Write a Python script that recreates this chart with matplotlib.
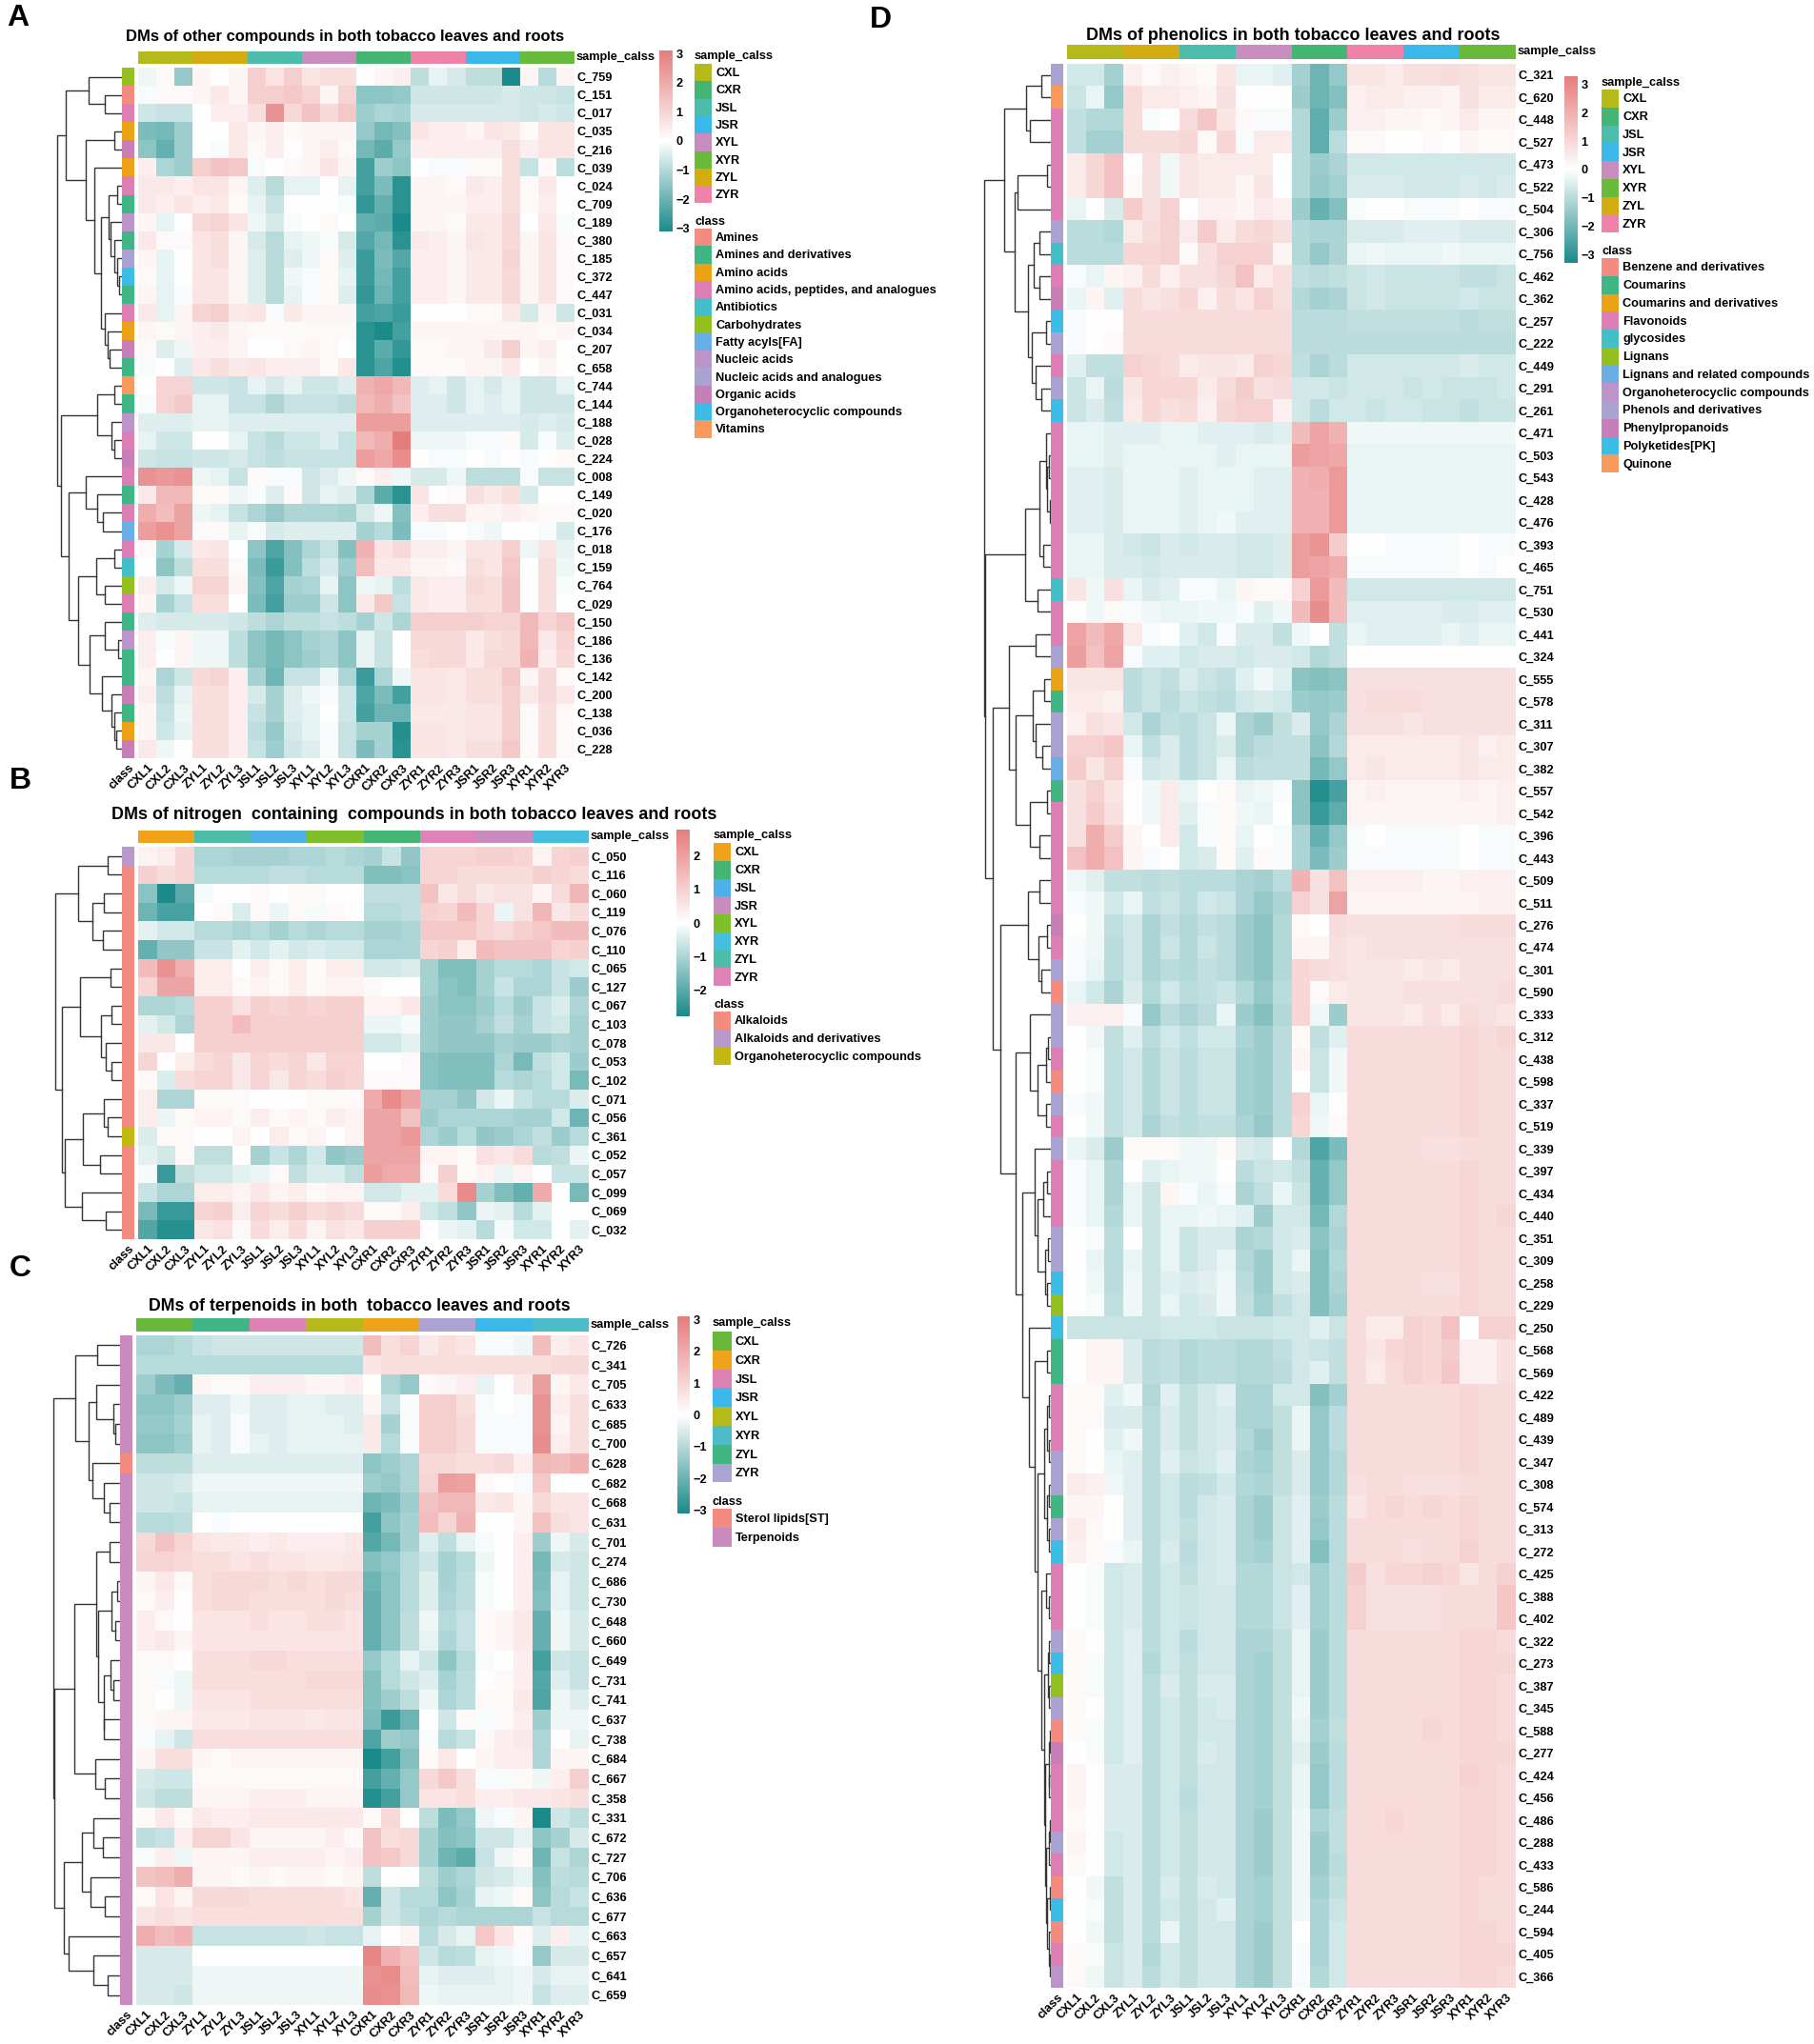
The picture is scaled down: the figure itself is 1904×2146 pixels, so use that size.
import numpy as np
import matplotlib
matplotlib.use('Agg')
import matplotlib.pyplot as plt
from matplotlib.colors import LinearSegmentedColormap, ListedColormap
from matplotlib.patches import Rectangle

plt.rcParams['font.family'] = ['Liberation Sans', 'DejaVu Sans']
plt.rcParams['font.weight'] = 'bold'

W, H = 1904, 2146
FS = 9.2
# values below were read a bit low against the colour bars
PINK_GAIN = 1.3
TEAL_GAIN = 1.1

samples = ['CXL1', 'CXL2', 'CXL3', 'ZYL1', 'ZYL2', 'ZYL3', 'JSL1', 'JSL2', 'JSL3', 'XYL1', 'XYL2', 'XYL3',
           'CXR1', 'CXR2', 'CXR3', 'ZYR1', 'ZYR2', 'ZYR3', 'JSR1', 'JSR2', 'JSR3', 'XYR1', 'XYR2', 'XYR3']
groups = ['CXL', 'CXR', 'JSL', 'JSR', 'XYL', 'XYR', 'ZYL', 'ZYR']
block_order = ['CXL', 'ZYL', 'JSL', 'XYL', 'CXR', 'ZYR', 'JSR', 'XYR']

# ---------- panel A ----------
a_rows = ['759', '151', '017', '035', '216', '039', '024', '709', '189', '380', '185', '372', '447', '031', '034',
          '207', '658', '744', '144', '188', '028', '224', '008', '149', '020', '176', '018', '159', '764', '029',
          '150', '186', '136', '142', '200', '138', '036', '228']
a_values = [
    [-2, 1, -13, 2, 0, 2, 9, 5, 9, 5, 6, 6, 0, 2, 3, -8, -3, -5, -8, -8, -30, 2, -9, 2],
    [-1, 1, 1, 2, 4, 2, 9, 9, 10, 8, 2, 8, -14, -14, -13, -6, -6, -6, -6, -6, -5, -6, -6, -7],
    [-6, -7, -7, 0, 3, 3, 6, 20, 7, 11, 7, 10, -12, -10, -11, -5, -5, -5, -5, -5, -5, -6, -5, -6],
    [-16, -17, -12, 0, 0, 4, 2, 3, 1, 2, 2, 2, -13, -17, -15, 5, 3, 3, 2, 5, 4, 1, 5, 5],
    [-14, -19, -12, 0, -1, 4, 1, 3, 0, 2, 3, 1, -17, -20, -13, 3, 3, 3, 3, 3, 6, 3, 5, 5],
    [3, -10, -12, 9, 11, 10, -1, 0, 1, 2, 5, 2, -23, -12, -14, 0, -1, -1, 1, 1, 6, -7, 1, -8],
    [4, 4, 3, 5, 5, 2, -4, -9, -3, -3, 0, -3, -23, -16, -26, 2, 2, 1, 4, 3, 6, 1, 4, 0],
    [4, 3, 5, 3, 4, 1, -3, -7, 0, 0, 0, -1, -25, -19, -26, 2, 2, 2, 3, 3, 6, 1, 3, 0],
    [2, -3, 0, 7, 8, 5, -2, -5, -1, 0, 1, 0, -19, -20, -28, 2, 2, 1, 4, 4, 7, 0, 4, -1],
    [4, 1, 1, 5, 6, 2, -5, -9, -3, -2, -1, -5, -21, -17, -26, 4, 3, 2, 5, 4, 7, 2, 5, 1],
    [2, -3, 0, 5, 6, 2, -4, -9, -4, -2, 1, -4, -24, -16, -21, 3, 3, 2, 4, 4, 8, 2, 5, 1],
    [1, -3, 0, 5, 5, 2, -4, -9, -2, -1, 1, -3, -24, -17, -23, 3, 3, 2, 4, 4, 7, 2, 5, 1],
    [2, -3, -1, 5, 5, 2, -4, -9, -3, -1, 1, -4, -25, -18, -23, 3, 3, 2, 4, 4, 7, 2, 5, 1],
    [4, -3, 2, 8, 9, 4, 5, -1, 4, 2, 2, 2, -23, -22, -24, 0, 0, 0, 1, 1, 4, -5, 2, -6],
    [2, 1, 2, 3, 4, 2, 1, 1, 1, 1, 1, 1, -26, -28, -23, 2, 2, 2, 2, 2, 2, 2, 1, 2],
    [1, -4, -2, 3, 3, 2, 0, 0, 1, 2, 1, 0, -26, -20, -25, 1, 1, 2, 2, 4, 9, 2, 3, 0],
    [-1, 0, -4, 4, 6, 4, 5, 3, 3, 3, 1, 4, -26, -22, -27, 1, 1, 1, 2, 2, 4, 0, 2, 0],
    [0, 8, 8, -6, -6, -7, -3, -5, -3, -6, -6, -4, 14, 16, 13, -4, -3, -6, -3, -5, -3, -6, -6, -3],
    [-1, 8, 10, -3, -3, -7, -7, -10, -7, -7, -7, -8, 13, 15, 11, -4, -4, -6, -3, -4, -3, -6, -6, -6],
    [-4, -4, -4, -3, -3, -4, -4, -4, -4, -4, -4, -4, 18, 18, 18, -4, -4, -4, -4, -4, -4, -5, -4, -5],
    [-3, -6, -6, 0, 0, -3, -7, -9, -6, -6, -4, -7, 13, 15, 24, -2, -2, -2, -1, -1, 1, -5, -1, -4],
    [-6, -7, -7, -6, -6, -5, -7, -8, -7, -7, -7, -7, 18, 16, 21, 0, -1, -1, 0, -1, 0, -1, 0, 1],
    [20, 19, 20, -2, -3, -7, 1, -1, -1, -6, -4, -2, 1, 3, -2, -5, -5, -2, -8, -8, -8, -1, -7, -7],
    [4, 13, 13, 1, 1, -2, -1, -4, 1, -6, -3, -4, -10, -20, -26, 5, 0, 1, 6, 4, 6, -5, 0, 0],
    [15, 12, 17, -2, -3, -7, -10, -13, -10, -10, -10, -11, -5, -2, -15, 3, 6, 6, 2, 2, 3, 2, 1, 1],
    [18, 20, 17, 1, 1, -3, -1, -5, -4, -4, -4, -4, -11, -9, -16, -1, -1, 0, -1, -2, 0, 0, -1, -5],
    [1, -11, -5, 4, 5, 0, -14, -22, -15, -10, -7, -15, 14, 5, 7, 3, 3, 2, 5, 5, 9, -2, 5, -3],
    [0, -14, -8, 6, 6, 1, -16, -24, -15, -8, -5, -12, 12, 4, 4, 2, 2, 1, 6, 5, 10, 0, 6, -2],
    [3, -5, -2, 8, 8, 2, -15, -22, -11, -10, -3, -14, -2, -3, -8, 4, 3, 3, 7, 6, 11, 0, 6, -1],
    [2, -11, -7, 6, 6, 0, -16, -23, -12, -12, -6, -14, 4, 10, -7, 4, 3, 3, 6, 6, 11, 0, 6, 0],
    [-4, -5, -5, -5, -5, -6, -8, -10, -8, -8, -7, -8, -11, -6, -10, 9, 9, 9, 9, 8, 8, 13, 8, 10],
    [3, -1, 2, -2, -2, -8, -14, -17, -14, -11, -10, -14, -3, -7, 0, 7, 7, 7, 4, 6, 7, 13, 4, 8],
    [3, 0, 2, -2, -2, -8, -14, -17, -14, -12, -10, -14, -3, -7, 0, 6, 7, 7, 4, 7, 7, 14, 3, 7],
    [2, -10, -6, 7, 8, 3, -11, -18, -7, -7, -2, -10, -24, -10, -2, 5, 5, 4, 6, 6, 10, 2, 7, 1],
    [3, -8, -3, 6, 6, 3, -5, -11, -4, -2, -1, -6, -22, -16, -23, 5, 5, 4, 6, 6, 9, 4, 7, 4],
    [2, -7, -2, 6, 6, 3, -7, -11, -4, -3, 0, -6, -23, -18, -18, 4, 4, 4, 5, 5, 9, 1, 6, 1],
    [2, -6, -3, 6, 6, 3, -8, -13, -5, -3, -1, -7, -11, -11, -27, 5, 5, 4, 5, 5, 9, 1, 6, 1],
    [4, -2, 0, 6, 6, 3, -7, -12, -6, -4, -1, -7, -16, -11, -26, 5, 5, 4, 6, 6, 10, 1, 6, 1],
]
a_classes = ['Amines', 'Amines and derivatives', 'Amino acids', 'Amino acids, peptides, and analogues', 'Antibiotics',
             'Carbohydrates', 'Fatty acyls[FA]', 'Nucleic acids', 'Nucleic acids and analogues', 'Organic acids',
             'Organoheterocyclic compounds', 'Vitamins']
a_class_colors = ['#F48B80', '#40B685', '#EBA315', '#DD7FB5', '#44BFC9', '#93C01F', '#69AEE4', '#BC94C9', '#AAA3D1',
                  '#C87FB7', '#3CBDE5', '#F79A5B']
a_row_class = [5, 0, 3, 2, 9, 2, 3, 1, 7, 1, 8, 10, 1, 3, 2, 9, 1, 11, 1, 7, 3, 9, 3, 1, 3, 6, 3, 4, 5, 3, 1, 7, 1, 1,
               9, 1, 2, 9]
a_group_colors = ['#B5B91A', '#45B573', '#4CBCAB', '#3BB8EA', '#C98CBE', '#69B93B', '#D3AC14', '#EE82A8']
# (height, left, right), leaves are row numbers
a_tree = (68,
          (59, (35, 0, (18, 1, 2)),
           (38, (8, 3, 4),
            (29, 5, (22, (14, (5, 6, 7), (12, 8, (8, 9, (5, 10, (3, 11, 12))))),
                     (18, 13, (15, 14, (13, 15, 16))))))),
          (64, (26, (8, 17, 18), (11, 19, (8, 20, 21))),
           (56, (38, 22, (26, 23, (20, 24, 25))),
            (46, (27, (8, 26, 27), (18, 28, 29)),
             (34, (18, 30, (4, 31, 32)), (21, 33, (11, 34, (8, 35, (6, 36, 37)))))))))

# ---------- panel B ----------
b_rows = ['050', '116', '060', '119', '076', '110', '065', '127', '067', '103', '078', '053', '102', '071', '056',
          '361', '052', '057', '099', '069', '032']
b_values = [
    [2, 3, 7, -9, -9, -10, -10, -10, -9, -9, -8, -9, -10, -6, -12, 7, 7, 7, 8, 8, 7, 2, 7, 8],
    [8, 6, 7, -8, -8, -8, -8, -7, -7, -8, -8, -8, -14, -14, -13, 7, 7, 6, 6, 6, 6, 8, 7, 6],
    [-13, -25, -18, -1, 0, 0, 1, 0, 1, 1, 0, 0, -7, -7, -7, 10, 4, 6, 4, 5, 5, 2, 6, 12],
    [-16, -20, -20, 0, 1, -4, 1, -2, 1, -1, 1, 0, -8, -8, -7, 8, 7, 11, 7, -2, 5, 12, 4, 6],
    [-3, -5, -5, -8, -8, -9, -8, -10, -8, -9, -8, -8, -10, -10, -9, 9, 9, 9, 7, 6, 8, 9, 11, 11],
    [-17, -12, -12, -6, -6, -3, -5, -3, -5, -4, -5, -5, -9, -9, -9, 7, 8, 3, 11, 10, 10, 10, 7, 8],
    [11, 18, 13, 3, 3, 0, 3, 1, 3, 1, 3, 3, -5, -5, -4, -10, -14, -14, -10, -8, -8, -9, -6, -5],
    [7, 15, 15, 3, 3, 1, 2, 1, 3, 1, 2, 2, 1, 0, 0, -10, -13, -14, -10, -6, -9, -9, -6, -11],
    [-9, -9, -8, 8, 8, 5, 8, 7, 8, 7, 8, 8, 2, 2, 4, -11, -13, -13, -11, -8, -11, -6, -4, -9],
    [-3, -5, -9, 8, 8, 11, 8, 8, 8, 8, 8, 8, -2, -2, -1, -11, -12, -12, -10, -7, -10, -6, -5, -10],
    [4, 4, 0, 8, 8, 8, 8, 8, 8, 8, 8, 8, -5, -5, -3, -11, -12, -12, -12, -10, -11, -11, -9, -10],
    [7, 0, 3, 6, 7, 4, 7, 6, 7, 4, 7, 7, 0, 0, 1, -13, -14, -14, -14, -9, -15, -7, -5, -11],
    [1, -4, 6, 7, 7, 4, 7, 4, 7, 6, 8, 7, 1, 1, 1, -13, -14, -14, -14, -8, -9, -8, -5, -15],
    [3, -9, -9, 1, 1, 1, 0, 0, 0, 1, 1, 1, 14, 19, 15, -10, -10, -12, -5, -2, -6, -8, -8, -4],
    [3, -2, 1, 2, 2, 1, 3, 1, 2, 1, 3, 2, 15, 15, 10, -11, -9, -9, -9, -9, -10, -10, -5, -16],
    [-4, 1, 1, 0, 0, 2, 0, 3, 1, 2, 0, 2, 15, 15, 17, -9, -11, -8, -12, -11, -9, -7, -11, -8],
    [-3, -5, 1, -7, -7, 0, -10, -6, -9, -5, -12, -11, 15, 15, 15, 2, 2, 1, 5, 4, 6, -8, -7, -2],
    [-1, -22, -7, -5, -5, -3, -2, 1, -7, -4, -4, -7, 16, 14, 14, 1, 8, 1, 2, -2, 2, 0, -6, -6],
    [-6, -9, -9, 3, 3, 2, 4, 2, 3, 1, 2, 2, -5, -5, -3, -3, 6, 19, -10, -14, -17, 14, 0, -15],
    [-15, -22, -22, 7, 8, 3, 7, 6, 8, 6, 7, 6, 1, 1, 3, -5, -7, -12, -2, -3, -8, -3, 0, 0],
    [-19, -24, -24, 4, 5, 1, 6, 3, 6, 2, 5, 4, 8, 8, 8, 0, -2, -3, -8, -1, -5, -5, 0, -3],
]
b_classes = ['Alkaloids', 'Alkaloids and derivatives', 'Organoheterocyclic compounds']
b_class_colors = ['#F48B80', '#B79ACB', '#C3B811']
b_row_class = [1, 0, 0, 0, 0, 0, 0, 0, 0, 0, 0, 0, 0, 0, 0, 2, 0, 0, 0, 0, 0]
b_group_colors = ['#F0A31A', '#45B574', '#4EB0E8', '#C98ABD', '#80BF2C', '#45BEDF', '#4DBDAA', '#DE82B8']
b_tree = (70,
          (46, (15, 0, 1), (31, (19, 2, 3), (20, 4, 5))),
          (63, (44, (12, 6, 7), (22, (11, 8, 9), (17, 10, (11, 11, 12)))),
           (60, (41, (19, 13, (15, 14, 15)), (23, 16, 17)), (42, 18, (17, 19, 20)))))

# ---------- panel C ----------
c_rows = ['726', '341', '705', '633', '685', '700', '628', '682', '668', '631', '701', '274', '686', '730', '648',
          '660', '649', '731', '741', '637', '738', '684', '667', '358', '331', '672', '727', '706', '636', '677',
          '663', '657', '641', '659']
c_values = [
    [-10, -10, -9, -7, -6, -6, -6, -6, -6, -6, -6, -6, 12, 6, 8, 4, 6, 5, -1, -1, -2, 12, 3, 5],
    [-9, -9, -9, -9, -9, -9, -9, -9, -9, -9, -9, -9, 5, 6, 6, 6, 6, 6, 6, 6, 6, 6, 7, 7],
    [-12, -16, -19, 2, 1, 1, 3, 3, 3, 2, 2, 3, 0, -10, -13, 1, 2, 3, -3, 0, 4, 18, 2, 4],
    [-14, -14, -12, -4, -4, -2, -4, -4, -3, -3, -4, -4, 2, -7, -1, 9, 9, 6, -1, 0, -1, 20, 3, 6],
    [-13, -13, -11, -3, -4, -1, -4, -4, -3, -3, -3, -4, 4, -11, -1, 9, 9, 7, -1, -1, -1, 20, 2, 6],
    [-14, -14, -12, -3, -4, -1, -3, -4, -3, -3, -3, -3, 4, -9, -1, 9, 9, 7, -1, -1, -1, 21, 3, 6],
    [-8, -8, -8, -4, -4, -4, -4, -4, -4, -4, -4, -4, -14, -12, -10, 7, 7, 6, 6, 7, 3, 13, 12, 14],
    [-6, -6, -5, -2, -2, -2, -2, -2, -2, -2, -2, -2, -12, -13, -10, 8, 18, 17, 1, 0, -1, 10, 0, 0],
    [-6, -6, -7, -3, -3, -3, -3, -3, -3, -3, -3, -3, -18, -16, -12, 11, 13, 13, 4, 5, 2, 7, 5, 5],
    [-9, -9, -8, 0, -1, 0, 0, 0, 0, 0, 0, 0, -23, -14, -11, 12, 8, 14, 0, 0, 2, 11, 6, 5],
    [7, 11, 8, 5, 4, 4, 3, 4, 3, 3, 3, 4, -21, -17, -11, -4, -8, -3, -1, 0, 3, -12, -2, -5],
    [8, 8, 7, 6, 6, 5, 6, 5, 5, 4, 4, 5, -15, -13, -9, -6, -11, -9, -2, 0, 3, -17, -5, -6],
    [2, 4, 1, 6, 7, 7, 7, 6, 7, 6, 7, 7, -18, -14, -9, -4, -11, -8, -1, 0, 3, -16, -3, -6],
    [1, 3, 0, 6, 7, 7, 6, 6, 6, 6, 7, 6, -19, -14, -9, -4, -10, -8, -1, 0, 3, -15, -3, -6],
    [3, 1, 0, 5, 5, 5, 6, 5, 5, 6, 6, 5, -19, -14, -8, -2, -9, -7, 1, 2, 4, -19, -2, -5],
    [3, 4, 2, 5, 5, 5, 5, 5, 5, 5, 5, 5, -19, -14, -8, -3, -10, -7, 1, 2, 4, -19, -2, -5],
    [1, 1, 0, 6, 6, 6, 7, 7, 6, 6, 6, 6, -13, -9, -3, -6, -14, -9, -1, 0, 3, -23, -6, -7],
    [1, -1, -2, 6, 6, 6, 6, 6, 6, 7, 7, 7, -15, -9, -6, -4, -11, -8, 0, 1, 3, -21, -4, -7],
    [1, 0, -2, 5, 5, 5, 6, 6, 6, 6, 6, 6, -15, -12, -8, -2, -10, -8, 1, 1, 4, -22, -2, -4],
    [1, 2, 2, 4, 4, 4, 5, 5, 5, 4, 5, 5, -16, -24, -18, 0, -6, 1, -1, 1, 3, -12, -2, -2],
    [-1, -3, -6, 6, 6, 6, 6, 6, 6, 6, 6, 6, -22, -12, -13, -1, -9, -7, 1, 3, 4, -10, 0, -3],
    [2, 6, 6, 2, 1, 2, 2, 2, 2, 2, 2, 2, -28, -23, -15, 1, 4, 0, 2, 3, 3, -10, 2, 2],
    [-5, -6, -6, 1, 1, 1, 1, 1, 1, 1, 1, 1, -23, -19, -13, 7, 10, 6, -1, -1, 1, -2, 3, 9],
    [-6, -8, -8, 2, 2, 2, 3, 3, 3, 2, 2, 2, -27, -23, -13, 5, 5, 6, 3, 3, 4, 4, 5, 6],
    [1, 4, 1, 4, 3, 3, 4, 4, 4, 4, 4, 4, 1, 7, 0, -8, -16, -13, -2, -1, 2, -29, -6, -8],
    [-8, -7, 3, 8, 8, 5, 2, 2, 2, 2, 3, 1, 11, 6, 7, -11, -15, -14, -6, -6, -3, -14, -11, -5],
    [-1, 3, -2, 2, 2, 2, 3, 3, 3, 3, 2, 3, 11, 10, 7, -11, -18, -20, -7, -2, 1, -18, -7, -10],
    [11, 12, 15, 2, 2, 1, 2, 1, 2, 2, 1, 2, -8, 0, 0, -8, -12, -10, -6, -5, -3, -15, -8, -9],
    [1, 5, 2, 7, 7, 7, 6, 6, 6, 6, 6, 5, -19, -6, -9, -9, -14, -11, -3, -2, 1, -14, -9, -7],
    [5, 6, 5, 6, 6, 6, 6, 6, 6, 6, 6, 6, -11, -6, -8, -10, -9, -10, -10, -10, -10, -7, -9, -9],
    [15, 12, 14, -7, -7, -7, -7, -7, -7, -6, -7, -7, -3, 0, 2, -9, -5, -3, 10, 5, 1, -4, 3, -3],
    [-5, -5, -5, 0, 0, 0, 0, 0, 0, 0, 0, 0, 22, 14, 11, -6, -9, -8, -3, -2, -1, -13, -5, -5],
    [-5, -5, -5, -2, -2, -2, -2, -2, -2, -2, -2, -2, 20, 21, 12, -3, -4, -4, -4, -3, -2, -5, -3, -3],
    [-5, -5, -6, -2, -2, -2, -2, -2, -2, -2, -2, -2, 21, 20, 13, -2, -3, -3, -3, -3, -2, -7, -4, -4],
]
c_classes = ['Sterol lipids[ST]', 'Terpenoids']
c_class_colors = ['#F48B80', '#C98ABD']
c_row_class = [1] * 6 + [0] + [1] * 27
c_group_colors = ['#6AB83B', '#EFA31A', '#DE82B5', '#3BB8EA', '#B5B91A', '#4CBCC9', '#40B685', '#ABA4D3']
c_tree = (70,
          (47, (24, 0, 1),
           (33, (25, 2, (7.5, 3, (4.6, 4, 5))), (29, 6, (17, 7, (11.5, 8, 9))))),
          (69, (48, (25, (11.5, 10, 11),
                     (23, (9, (3.5, 12, 13), (4.6, 14, 15)), (17, (10, 16, (7.5, 17, 18)), (17, 19, 20)))),
                (26.5, 21, (16, 22, 23))),
           (59, (40, (28, 24, (18, 25, 26)), (30.6, 27, (16, 28, 29))),
            (54, 30, (28, 31, (13, 32, 33))))))

# ---------- panel D ----------
d_rows = ['321', '620', '448', '527', '473', '522', '504', '306', '756', '462', '362', '257', '222', '449', '291',
          '261', '471', '503', '543', '428', '476', '393', '465', '751', '530', '441', '324', '555', '578', '311',
          '307', '382', '557', '542', '396', '443', '509', '511', '276', '474', '301', '590', '333', '312', '438',
          '598', '337', '519', '339', '397', '434', '440', '351', '309', '258', '229', '250', '568', '569', '422',
          '489', '439', '347', '308', '574', '313', '272', '425', '388', '402', '322', '273', '387', '345', '588',
          '277', '424', '456', '486', '288', '433', '586', '244', '594', '405', '366']
d_values = [
    [-6, -6, -12, 3, 1, 3, 2, 1, 5, -3, -3, -4, -12, -19, -14, 5, 5, 4, 6, 6, 7, 6, 5, 5],
    [-7, -3, -14, 7, 4, 4, 3, 2, 6, 0, 0, 0, -13, -19, -16, 3, 4, 4, 3, 3, 2, 6, 4, 4],
    [-8, -10, -10, 7, -1, 0, 7, 11, 5, 1, -1, -1, -10, -21, -13, 3, 3, 2, 2, 1, 2, 4, 2, 2],
    [-8, -12, -12, 7, 7, 7, 8, 1, 8, -1, 4, 4, -10, -21, -9, 1, 1, 0, 0, 1, 0, 2, 1, 1],
    [4, 8, 12, 0, 6, -2, 5, 4, 4, 4, 4, 0, -10, -13, -11, -6, -6, -6, -6, -6, -6, -6, -6, -6],
    [4, 8, 12, 1, 6, -2, 5, 4, 4, 2, 5, 0, -10, -14, -12, -5, -5, -5, -6, -6, -6, -5, -6, -5],
    [-3, 0, -5, 10, 6, 9, 0, 3, 3, 2, 4, 3, -13, -20, -16, -1, 0, 0, -1, -1, -1, 0, -1, -1],
    [-9, -9, -10, 4, 7, 9, 4, 10, 4, 7, 8, 6, -10, -11, -11, -5, -5, -5, -4, -4, -4, -5, -5, -5],
    [-9, -9, -9, 8, 8, 9, 1, 6, 9, 9, 9, 2, -10, -14, -11, -3, -2, -3, -3, -3, -2, -3, -3, -3],
    [-1, -3, 2, 3, 7, 3, 6, 6, 8, 12, 4, 6, -8, -9, -8, -7, -6, -7, -7, -7, -7, -8, -8, -7],
    [-3, 2, -4, 7, 5, 6, 8, 3, 7, 5, 9, 6, -10, -12, -11, -7, -6, -7, -7, -7, -7, -6, -7, -7],
    [-1, 0, 0, 7, 7, 7, 7, 7, 7, 7, 7, 7, -9, -9, -9, -8, -8, -8, -8, -8, -8, -9, -8, -8],
    [-1, 0, 1, 7, 7, 7, 7, 7, 7, 7, 7, 7, -9, -9, -9, -9, -9, -9, -9, -9, -9, -9, -9, -9],
    [-4, -8, -8, 9, 8, 7, 4, 5, 5, 4, 9, 8, -8, -11, -9, -6, -6, -6, -6, -6, -6, -5, -6, -6],
    [-7, -3, -9, 5, 8, 8, 8, 4, 7, 10, 6, 7, -6, -6, -7, -6, -6, -6, -7, -6, -7, -7, -7, -6],
    [-7, -5, -8, 4, 8, 6, 7, 3, 8, 9, 9, 3, -6, -9, -6, -6, -7, -6, -6, -7, -7, -8, -7, -7],
    [-3, -3, -4, -4, -4, -3, -3, -4, -4, -4, -5, -4, 13, 18, 15, -2, -2, -2, -2, -2, -2, -2, -2, -2],
    [-3, -3, -4, -3, -3, -3, -3, -3, -4, -3, -3, -3, 19, 18, 17, -3, -3, -3, -3, -3, -3, -3, -3, -3],
    [-4, -4, -5, -3, -3, -3, -4, -3, -3, -3, -4, -4, 15, 16, 20, -3, -3, -3, -3, -3, -3, -3, -3, -3],
    [-4, -4, -5, -3, -3, -3, -4, -3, -3, -3, -4, -4, 15, 15, 20, -3, -3, -3, -3, -3, -3, -3, -3, -3],
    [-4, -4, -5, -3, -3, -3, -4, -3, -2, -4, -4, -4, 15, 15, 20, -3, -3, -3, -3, -3, -3, -3, -3, -3],
    [-3, -3, -5, -6, -7, -5, -6, -5, -5, -6, -6, -5, 19, 21, 10, 0, 0, -1, -1, -1, -1, 0, -1, -1],
    [-3, -3, -5, -5, -6, -5, -5, -5, -5, -6, -6, -5, 19, 18, 16, -1, -1, -1, -1, -1, -1, 0, -1, 0],
    [5, -2, 6, -3, -5, -4, -1, -1, -3, 2, 1, 1, 9, 20, 13, -6, -6, -6, -6, -6, -6, -6, -6, -6],
    [0, -2, 1, -1, -2, -3, -3, -2, -2, -1, -4, -2, 13, 22, 13, -4, -4, -4, -4, -4, -5, -5, -4, -4],
    [18, 13, 17, 4, -1, 0, -4, -6, -1, -5, -5, -8, -2, 0, -8, -3, -4, -4, -4, -4, -3, -4, -3, -3],
    [19, 12, 18, -1, -4, -4, -6, -5, -5, -6, -5, -5, -6, -10, -8, 0, 0, 0, 0, 0, 0, 0, 0, 0],
    [5, 5, 5, -9, -7, -8, -5, -7, -8, -4, -2, -4, -15, -16, -15, 6, 6, 6, 6, 6, 6, 6, 6, 6],
    [4, 4, 3, -9, -7, -9, -7, -8, -9, -6, -5, -6, -13, -14, -13, 6, 7, 7, 7, 6, 6, 6, 6, 6],
    [3, 6, 5, -6, -11, -8, -9, -7, -3, -11, -13, -8, -5, -14, -11, 6, 6, 6, 5, 6, 6, 6, 6, 6],
    [9, 9, 11, -3, -8, -5, -9, -7, -5, -11, -9, -8, -8, -15, -10, 4, 4, 4, 4, 4, 4, 5, 3, 4],
    [10, 5, 9, -1, -6, -5, -9, -7, -3, -9, -8, -8, -8, -18, -14, 4, 5, 4, 4, 4, 4, 5, 4, 4],
    [6, 9, 5, 0, -2, 4, -3, 0, 1, -3, -2, -1, -15, -29, -24, 2, 3, 2, 2, 2, 2, 3, 2, 3],
    [6, 10, 6, 0, -2, 4, -4, -1, 1, -2, -3, 0, -15, -26, -21, 2, 2, 2, 2, 2, 2, 2, 2, 3],
    [6, 16, 10, 2, 0, 4, -6, -1, 1, -3, 0, -1, -11, -20, -14, -1, 0, -1, -1, -1, -1, 0, -1, -1],
    [12, 16, 12, 2, -1, 0, -6, -5, 1, -4, 1, -1, -11, -17, -13, -1, -1, -1, -1, -1, -1, 0, -1, -1],
    [-2, -4, -8, -8, -9, -8, -9, -9, -9, -11, -12, -9, 15, 6, 12, 3, 3, 3, 3, 2, 2, 3, 3, 3],
    [-1, -2, -6, -3, -8, -7, -9, -6, -7, -11, -14, -11, 9, 6, 18, 2, 2, 2, 2, 2, 2, 2, 3, 3],
    [0, -2, -8, -6, -11, -8, -10, -8, -9, -13, -15, -10, 1, 0, 7, 6, 6, 6, 6, 6, 6, 7, 7, 7],
    [-1, -2, -9, -6, -11, -7, -10, -7, -9, -13, -15, -10, 2, 2, 6, 5, 6, 6, 6, 6, 6, 6, 6, 6],
    [-1, -3, -9, -6, -11, -9, -10, -8, -9, -13, -15, -10, 8, 7, 6, 5, 5, 5, 4, 5, 4, 6, 6, 6],
    [-3, -6, -11, -5, -10, -6, -9, -8, -7, -10, -14, -9, 8, 1, 4, 5, 5, 5, 6, 6, 6, 6, 6, 7],
    [3, 3, 3, -1, -14, -9, -11, -9, -3, -13, -16, -10, 8, -2, -13, 5, 5, 5, 4, 6, 4, 7, 6, 5],
    [0, -2, -8, -4, -9, -6, -8, -6, -6, -11, -13, -9, 1, -8, -4, 7, 7, 7, 7, 7, 7, 8, 7, 8],
    [0, -1, -8, -6, -10, -7, -9, -7, -7, -12, -13, -9, 2, -7, -2, 7, 7, 7, 7, 7, 7, 8, 7, 7],
    [0, -1, -8, -6, -10, -7, -9, -7, -7, -12, -13, -9, 0, -7, -2, 7, 7, 7, 7, 7, 7, 8, 7, 7],
    [-1, -2, -8, -6, -10, -7, -9, -7, -7, -12, -13, -9, 9, -3, 0, 7, 7, 7, 7, 7, 7, 8, 7, 7],
    [0, -2, -8, -6, -11, -8, -9, -8, -8, -11, -14, -9, 8, -2, 1, 7, 7, 7, 7, 7, 7, 8, 7, 7],
    [-3, -5, -13, 1, 1, 1, -2, -2, 1, -5, -6, 0, -10, -23, -17, 7, 7, 7, 7, 6, 6, 7, 7, 7],
    [-1, -3, -11, 0, -4, -3, -2, -2, 0, -9, -7, -6, -8, -20, -14, 7, 7, 7, 7, 7, 7, 8, 7, 7],
    [-1, -3, -11, -3, -7, 2, -1, -3, -1, -11, -8, -3, -7, -20, -14, 7, 7, 7, 7, 7, 7, 8, 7, 7],
    [-1, -3, -10, -3, -7, -3, -3, -2, -3, -4, -13, -6, -6, -18, -10, 7, 7, 7, 7, 7, 7, 8, 7, 8],
    [0, -1, -9, 0, -7, -3, -7, -5, -5, -11, -10, -6, -5, -15, -11, 7, 7, 7, 7, 7, 7, 8, 7, 7],
    [0, -3, -9, -3, -7, -3, -7, -5, -3, -10, -13, -6, -3, -16, -10, 7, 7, 7, 7, 7, 7, 8, 7, 7],
    [0, -2, -9, -2, -7, -4, -5, -4, -2, -9, -13, -6, -5, -16, -11, 7, 7, 7, 7, 6, 6, 8, 7, 7],
    [0, -1, -8, -2, -7, -3, -6, -5, -2, -8, -12, -8, -6, -16, -12, 7, 7, 7, 7, 7, 7, 8, 7, 7],
    [-7, -7, -7, -7, -7, -6, -6, -6, -7, -7, -7, -6, -6, -4, -7, 7, 4, 4, 9, 8, 12, 0, 9, 9],
    [0, 2, 2, -5, -9, -8, -10, -9, -9, -10, -10, -8, -6, -7, -8, 7, 5, 8, 9, 8, 10, 3, 3, 6],
    [0, 2, 2, -5, -9, -8, -10, -9, -9, -10, -10, -9, -6, -4, -8, 7, 4, 7, 9, 8, 11, 3, 3, 6],
    [1, 1, -4, -2, -10, -4, -8, -6, -4, -11, -11, -6, -6, -16, -12, 7, 7, 7, 7, 7, 7, 8, 7, 7],
    [1, 1, -5, -5, -9, -5, -8, -6, -5, -11, -11, -8, -3, -14, -9, 7, 7, 7, 7, 7, 7, 8, 7, 7],
    [1, 0, -4, -2, -9, -5, -8, -6, -5, -10, -13, -8, -3, -14, -9, 7, 7, 7, 7, 7, 7, 8, 7, 7],
    [1, 0, -3, -4, -9, -4, -7, -6, -4, -11, -12, -8, -5, -14, -10, 7, 7, 7, 7, 7, 7, 8, 7, 7],
    [4, 3, -2, -4, -9, -6, -9, -8, -6, -10, -11, -8, -5, -14, -10, 6, 7, 7, 6, 6, 6, 7, 7, 7],
    [2, 2, 0, -4, -9, -6, -9, -6, -5, -11, -13, -7, -4, -13, -9, 5, 7, 8, 7, 8, 7, 8, 7, 7],
    [4, 1, 0, -4, -9, -6, -8, -6, -5, -11, -13, -7, -4, -14, -9, 7, 7, 7, 7, 7, 7, 8, 7, 7],
    [3, 1, -1, -3, -9, -5, -9, -6, -5, -11, -12, -7, -4, -16, -9, 7, 7, 7, 6, 7, 7, 9, 7, 7],
    [0, -1, -6, -5, -9, -6, -8, -6, -5, -10, -10, -7, -6, -12, -9, 10, 6, 8, 8, 9, 8, 5, 7, 9],
    [0, -1, -6, -5, -9, -6, -7, -6, -6, -10, -10, -7, -4, -12, -9, 9, 6, 6, 6, 6, 7, 7, 7, 11],
    [0, -1, -6, -5, -9, -6, -7, -6, -6, -10, -10, -7, -4, -12, -9, 9, 6, 6, 6, 6, 7, 7, 7, 11],
    [1, 0, -6, -4, -9, -6, -9, -6, -6, -11, -11, -8, -3, -13, -9, 7, 7, 7, 7, 7, 7, 8, 8, 7],
    [1, -1, -6, -4, -10, -6, -8, -6, -6, -11, -12, -8, -3, -13, -9, 7, 7, 7, 7, 7, 7, 8, 8, 8],
    [1, -1, -6, -4, -9, -5, -8, -5, -5, -11, -12, -8, -3, -13, -9, 7, 7, 7, 7, 7, 7, 8, 8, 7],
    [1, 0, -6, -4, -9, -6, -8, -6, -5, -11, -12, -8, -2, -13, -9, 7, 7, 7, 7, 7, 7, 8, 8, 7],
    [1, -1, -6, -4, -9, -6, -8, -6, -6, -11, -12, -8, -3, -12, -8, 7, 7, 7, 7, 8, 7, 8, 8, 7],
    [0, -1, -6, -4, -9, -6, -8, -5, -6, -11, -12, -8, -4, -13, -9, 7, 7, 7, 7, 7, 7, 8, 8, 8],
    [2, 0, -5, -5, -9, -6, -8, -6, -6, -11, -12, -8, -3, -14, -9, 7, 7, 7, 7, 7, 7, 9, 8, 7],
    [2, 0, -5, -5, -9, -6, -9, -6, -6, -11, -12, -8, -3, -14, -9, 7, 7, 7, 7, 7, 7, 8, 8, 7],
    [1, 0, -5, -5, -9, -6, -8, -6, -6, -11, -13, -8, -2, -11, -8, 7, 7, 8, 7, 7, 7, 8, 8, 7],
    [2, 0, -6, -5, -9, -6, -8, -6, -6, -11, -13, -8, -2, -13, -8, 7, 7, 7, 7, 7, 7, 8, 8, 7],
    [1, 0, -6, -5, -9, -6, -8, -6, -6, -11, -13, -8, -2, -13, -9, 7, 7, 7, 7, 7, 7, 8, 8, 7],
    [0, -2, -8, -5, -9, -5, -8, -5, -6, -11, -12, -8, -2, -12, -8, 7, 7, 7, 7, 7, 7, 8, 7, 7],
    [0, -1, -8, -5, -9, -6, -8, -6, -4, -11, -12, -8, -2, -11, -7, 7, 7, 7, 7, 7, 7, 8, 7, 7],
    [0, -2, -8, -5, -9, -3, -8, -6, -6, -11, -13, -8, 0, -11, -6, 7, 7, 7, 7, 7, 7, 8, 8, 7],
    [1, -1, -7, -5, -10, -6, -8, -6, -6, -11, -13, -8, -1, -11, -6, 7, 7, 7, 7, 7, 7, 8, 8, 8],
    [1, -2, -7, -5, -9, -6, -8, -6, -6, -11, -13, -8, -1, -10, -6, 7, 7, 7, 7, 7, 7, 8, 8, 7],
]
d_classes = ['Benzene and derivatives', 'Coumarins', 'Coumarins and derivatives', 'Flavonoids', 'glycosides', 'Lignans',
             'Lignans and related compounds', 'Organoheterocyclic compounds', 'Phenols and derivatives',
             'Phenylpropanoids', 'Polyketides[PK]', 'Quinone']
d_row_class = [8, 11, 3, 3, 3, 3, 3, 8, 4, 3, 9, 10, 8, 3, 8, 10, 3, 3, 3, 3, 3, 3, 3, 4, 3, 3, 8, 2, 1, 8, 8, 6, 1, 3,
               3, 3, 3, 3, 9, 3, 8, 0, 8, 8, 3, 0, 8, 3, 8, 3, 3, 3, 8, 8, 10, 5, 10, 1, 1, 3, 3, 3, 8, 8, 1, 8, 10, 3,
               3, 3, 8, 10, 5, 8, 0, 9, 3, 3, 3, 8, 3, 0, 10, 0, 3, 7]
d_tree = (70,
          (49, (26, (10, 0, 1), (22, 2, 3)),
           (38, (35, (4, 4, 5), 6),
            (24, (18, (12, 7, 8), (12, 9, 10)), (20, (5, 11, 12), (16, 13, (10, 14, 15)))))),
          (69,
           (27, (12, (5, 16, (4, (2, 17, 18), (1.5, 19, 20))), (8, 21, 22)), (14, 23, 24)),
           (61.5,
            (44, (16, 25, 26),
             (37, (19, (7, 27, 28), (15.6, 29, (9, 30, 31))), (22, (4, 32, 33), (12, 34, 35)))),
            (53,
             (24, (12, 36, 37), (13, (4, 38, 39), (10, 40, 41))),
             (37,
              (22.5, 42, (14, (5, (3, 43, 44), 45), (5, 46, 47))),
              (30,
               (17, 48, (14, (8, (4, 49, 50), 51), (6, (3, 52, 53), (4, 54, 55)))),
               (23, 56,
                (17, (4, 57, 58),
                 (14, (7, (4, (2, 59, 60), (2, 61, 62)), (4, (2, 63, 64), (2, 65, 66))),
                  (10, (5, 67, (2, 68, 69)),
                   (7, (3, (2, 70, 71), (2, 72, 73)),
                    (6, (2.5, (1.5, 74, 75), (2, 76, 77)),
                     (5, (2, (1.5, 78, 79), 80), (4, (1.5, 81, 82), (2, 83, (1, 84, 85))))))))))))))))

cmap = LinearSegmentedColormap.from_list('teal_salmon', ['#1B8A8A', '#FFFFFF', '#E67D7D'])

fig = plt.figure(figsize=(W / 100, H / 100), dpi=100)
page = fig.add_axes([0, 0, 1, 1])
page.set_xlim(0, W)
page.set_ylim(H, 0)
page.axis('off')


def px_axes(x0, y0, x1, y1):
    ax = fig.add_axes([x0 / W, 1 - y1 / H, (x1 - x0) / W, (y1 - y0) / H])
    ax.set_xticks([])
    ax.set_yticks([])
    for s in ax.spines.values():
        s.set_visible(False)
    return ax


def draw_tree(ax, node):
    if not isinstance(node, tuple):
        return node + 0.5, 0
    h, left, right = node
    y1, h1 = draw_tree(ax, left)
    y2, h2 = draw_tree(ax, right)
    ax.plot([h1, h, h, h2], [y1, y1, y2, y2], color='#333333', lw=1.0, solid_joinstyle='miter')
    return (y1 + y2) / 2, h


def panel(box, values, rows, row_class, class_colors, group_colors, tree, vmax, ticks, title, title_x, title_y, title_fs,
          bar, cbar, leg, classes, sw, class_y):
    x0, x1, y0, y1, cx0, cx1 = box
    data = np.array(values) / 10
    data = np.where(data > 0, data * PINK_GAIN, data * TEAL_GAIN)
    n = len(rows)

    ax = px_axes(x0, y0, x1, y1)
    ax.pcolormesh(np.arange(25), np.arange(n + 1), data, cmap=cmap, vmin=-vmax, vmax=vmax)
    ax.set_ylim(n, 0)
    ax.set_xticks(np.arange(24) + 0.5)
    ax.set_xticklabels(samples, rotation=45, ha='right', rotation_mode='anchor', fontsize=FS)
    ax.set_yticks(np.arange(n) + 0.5)
    ax.set_yticklabels(['C_' + r for r in rows], fontsize=FS)
    ax.yaxis.tick_right()
    ax.tick_params(length=0, pad=1.5)
    ax.tick_params(axis='x', pad=3)

    # column annotation
    top = px_axes(x0, bar[0], x1, bar[1])
    order = [groups.index(g) for g in block_order for _ in range(3)]
    top.pcolormesh(np.arange(25), [0, 1], [order], cmap=ListedColormap(group_colors), vmin=-0.5, vmax=7.5)
    page.text(x1 + 2, (bar[0] + bar[1]) / 2, 'sample_calss', fontsize=FS, va='center', ha='left')

    # row annotation
    side = px_axes(cx0, y0, cx1, y1)
    side.pcolormesh([0, 1], np.arange(n + 1), np.array(row_class)[:, None], cmap=ListedColormap(class_colors),
                    vmin=-0.5, vmax=len(class_colors) - 0.5)
    side.set_ylim(n, 0)
    side.set_xticks([0.5])
    side.set_xticklabels(['class'], rotation=45, ha='right', rotation_mode='anchor', fontsize=FS)
    side.tick_params(length=0, pad=3)

    # dendrogram
    den = px_axes(cx0 - 75, y0, cx0, y1)
    draw_tree(den, tree)
    den.set_xlim(75, 0)
    den.set_ylim(n, 0)
    den.axis('off')

    # colour bar
    bx0, bx1, by0, by1 = cbar
    cb = px_axes(bx0, by0, bx1, by1)
    cb.imshow(np.linspace(vmax, -vmax, 256)[:, None], cmap=cmap, vmin=-vmax, vmax=vmax, aspect='auto',
              extent=[0, 1, -vmax, vmax])
    cb.set_yticks(ticks)
    cb.set_yticklabels([str(t).replace('-', '\u2212') for t in ticks], fontsize=FS)
    cb.yaxis.tick_right()
    cb.tick_params(length=0, pad=2.5)

    page.text(title_x, title_y, title, fontsize=title_fs, va='center', ha='left')

    # legends
    lx, ty, sy = leg
    page.text(lx, ty + 1, 'sample_calss', fontsize=FS, va='center', ha='left')
    for i, g in enumerate(groups):
        page.add_patch(Rectangle((lx, sy + i * sw[1]), sw[0], sw[1], fc=group_colors[i], ec='none'))
        page.text(lx + sw[0] + 4, sy + (i + 0.5) * sw[1] + 1, g, fontsize=FS, va='center', ha='left')
    page.text(lx, class_y + 1, 'class', fontsize=FS, va='center', ha='left')
    for i, c in enumerate(classes):
        page.add_patch(Rectangle((lx, class_y + 8 + i * sw[1]), sw[0], sw[1], fc=class_colors[i], ec='none'))
        page.text(lx + sw[0] + 4, class_y + 8 + (i + 0.5) * sw[1] + 1, c, fontsize=FS, va='center', ha='left')


panel((145, 603, 71, 796, 128, 141), a_values, a_rows, a_row_class, a_class_colors, a_group_colors, a_tree, 3.1,
      [3, 2, 1, 0, -1, -2, -3], 'DMs of other compounds in both tobacco leaves and roots', 132, 38, 11.9,
      (54, 67), (692, 706, 53, 243), (729, 58, 67), a_classes, (18, 18.3), 232)
panel((145, 618, 889, 1301, 128, 141), b_values, b_rows, b_row_class, b_class_colors, b_group_colors, b_tree, 2.78,
      [2, 1, 0, -1, -2], 'DMs of nitrogen  containing  compounds in both tobacco leaves and roots', 117, 855, 12.85,
      (872, 885), (710, 724, 871, 1067), (749, 876, 885), b_classes, (18, 18.75), 1054)
panel((143, 618, 1402, 2105, 126, 139), c_values, c_rows, c_row_class, c_class_colors, c_group_colors, c_tree, 3.1,
      [3, 2, 1, 0, -1, -2, -3], 'DMs of terpenoids in both  tobacco leaves and roots', 156, 1372, 12.8,
      (1384, 1398), (711, 724, 1382, 1589), (748, 1388, 1398), c_classes, (20, 19.8), 1576)
panel((1120, 1591, 67, 2087, 1103, 1116), d_values, d_rows, d_row_class, a_class_colors, a_group_colors, d_tree, 3.3,
      [3, 2, 1, 0, -1, -2, -3], 'DMs of phenolics in both tobacco leaves and roots', 1140, 37, 12.85,
      (47, 62), (1642, 1656, 80, 276), (1681, 86, 94), d_classes, (18, 18.75), 263)

for letter, x, y in [('A', 7, 19), ('B', 10, 820), ('C', 10, 1332), ('D', 913, 21)]:
    page.text(x, y, letter, fontsize=23, va='center', ha='left')

fig.savefig('out.png', dpi=100, facecolor='white')
